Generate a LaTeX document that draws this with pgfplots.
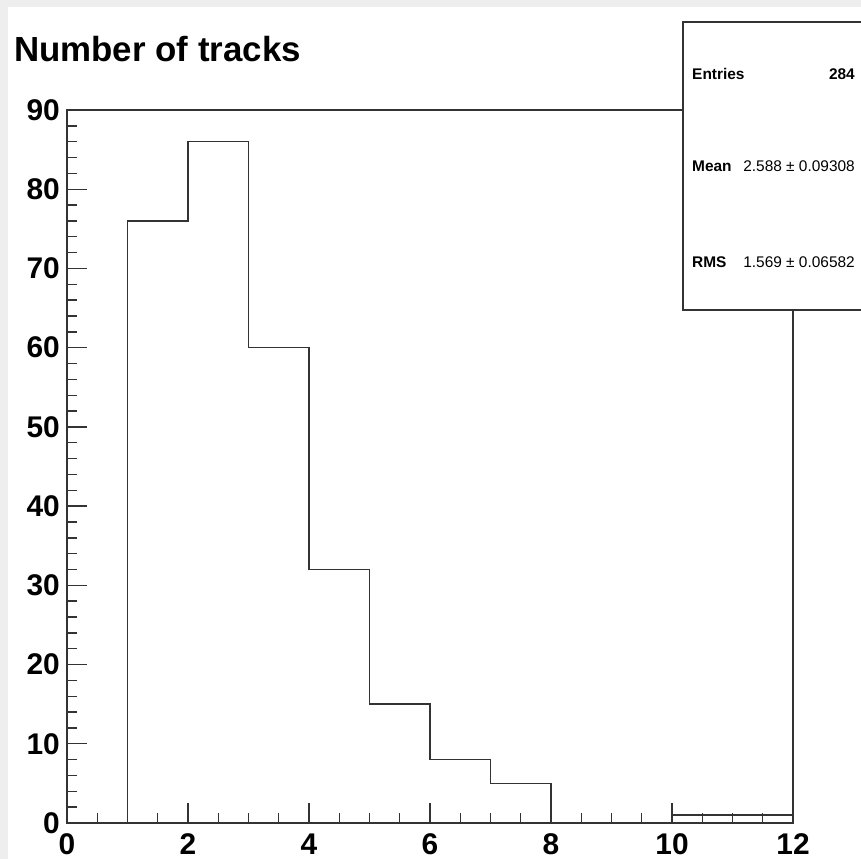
\documentclass[border=0pt]{standalone}
\usepackage{fontspec}
\setmainfont{Liberation Sans}
\usepackage{pgfplots}
\pgfplotsset{compat=1.18}
\definecolor{bggray}{HTML}{EEEEEE}
\definecolor{lncol}{HTML}{333333}
\begin{document}
\begin{tikzpicture}
\useasboundingbox (0,0) rectangle (861bp,859bp);
\clip (0,0) rectangle (861bp,859bp);
\fill[bggray] (0,0) rectangle (861bp,859bp);
\fill[white] (8bp,0) rectangle (861bp,852bp);
\node[anchor=base west, inner sep=0, font=\fontsize{35}{40}\selectfont\bfseries] at (14bp,797bp) {Number of tracks};
\begin{axis}[
  at={(67bp,36bp)}, anchor=south west,
  scale only axis, width=726bp, height=713bp,
  xmin=0, xmax=12, ymin=0, ymax=90,
  xtick={0,2,...,12}, ytick={0,10,...,90},
  minor x tick num=3, minor y tick num=4,
  tick align=inside, xtick pos=bottom, ytick pos=left,
  major tick length=20bp, minor tick length=10bp,
  axis line style={draw=lncol, line width=1.6bp},
  every tick/.style={draw=lncol, line width=1.4bp},
  /pgf/number format/assume math mode=true,
  ticklabel style={font=\fontsize{30}{30}\selectfont\bfseries, inner sep=0pt},
  xticklabel style={anchor=base, yshift=-31bp},
  yticklabel style={anchor=east, xshift=-7bp},
  clip=false,
]
\addplot[const plot, draw=lncol, line width=1.6bp, mark=none] coordinates {
  (0,0) (1,76) (2,86) (3,60) (4,32) (5,15) (6,8) (7,5) (8,0) (9,0) (10,1) (11,1) (12,1) (12,0)
};
\end{axis}
\draw[draw=lncol, line width=1.6bp, fill=white] (683bp,549bp) rectangle (880bp,837bp);
\begin{scope}[every node/.style={inner sep=0, font=\fontsize{15.5}{18}\selectfont}]
\node[anchor=base west] at (692bp,779bp) {\bfseries Entries};
\node[anchor=base east] at (855bp,779bp) {\bfseries 284};
\node[anchor=base west] at (692bp,687bp) {\bfseries Mean};
\node[anchor=base east] at (855bp,687bp) {2.588 ± 0.09308};
\node[anchor=base west] at (692bp,591bp) {\bfseries RMS};
\node[anchor=base east] at (855bp,591bp) {1.569 ± 0.06582};
\end{scope}
\end{tikzpicture}
\end{document}
